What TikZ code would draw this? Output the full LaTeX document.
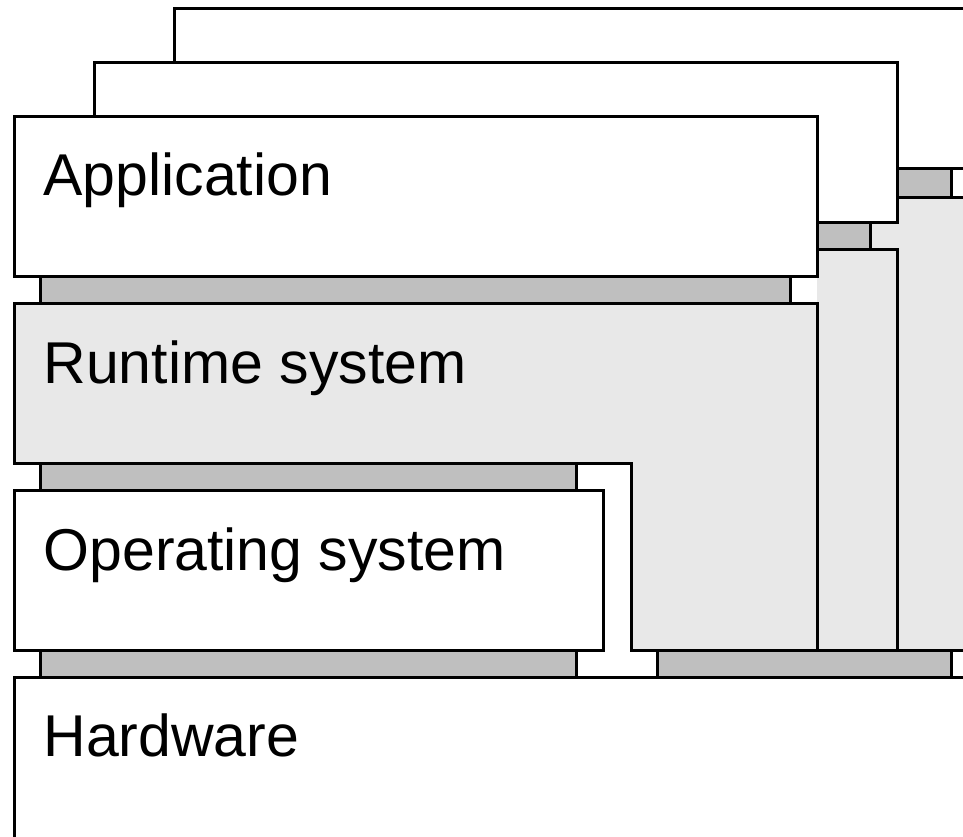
\documentclass[tikz,border=0pt]{standalone}
\usepackage{fontspec}
\setmainfont{Liberation Sans}
\definecolor{ifgray}{gray}{0.75}
\definecolor{rtgray}{gray}{0.91}

\begin{document}
\begin{tikzpicture}
[x=.5pt,y=-.5pt,line width=1.5pt,line join=miter]
\tikzset{wbox/.style={draw,fill=white}}
\tikzset{ibar/.style={draw,fill=ifgray}}
\tikzset{rbox/.style={draw,fill=rtgray}}
\tikzset{lbl/.style={anchor=base west,inner sep=0pt,font=\fontsize{29.5}{31}\selectfont}}
\useasboundingbox (0,0) rectangle (963,836);
\clip (0,0) rectangle (963,836);

% third stack (back)
\draw [wbox] (174,8) rectangle (1000,168);
\draw [ibar] (200,168) rectangle (951,197);
\draw [rbox] (840,197) rectangle (1000,650);
% second stack
\draw [wbox] (94,62) rectangle (897,222);
\draw [ibar] (600,222) rectangle (870,249);
\fill [rtgray] (817,249) rectangle (897,650);
\draw (817,249) -| (897,650);
% front stack
\draw [wbox] (14,116) rectangle (817,276);
\draw [ibar] (40,276) rectangle (790,303);
\draw [rbox] (14,303) -- (817,303) -- (817,650) -- (631,650)
	-- (631,463) -- (14,463) -- cycle;
\draw [ibar] (40,463) rectangle (576,490);
\draw [wbox] (14,490) rectangle (603,650);
\draw [ibar] (40,650) rectangle (576,677);
\draw [ibar] (657,650) rectangle (951,677);
\draw [wbox] (14,677) rectangle (1000,900);

\node [lbl] (app) at (42,195) {Application};
\node [lbl] (rts) at (42,383) {Runtime system};
\node [lbl] (os) at (42,570) {Operating system};
\node [lbl] (hw) at (42,756) {Hardware};
\end{tikzpicture}
\end{document}
